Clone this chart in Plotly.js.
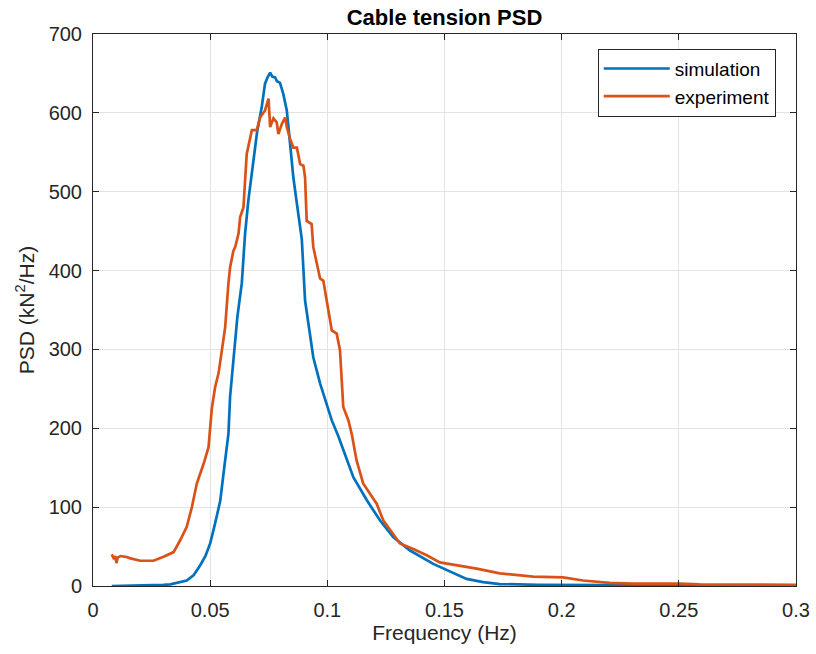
<!DOCTYPE html>
<html>
<head>
<meta charset="utf-8">
<script src="https://cdn.plot.ly/plotly-3.0.1.min.js"></script>
<style>body{margin:0;padding:0;background:#fff}#chart{width:816px;height:654px}</style>
</head>
<body>
<div id="chart"></div>
<script>
const simFreq = [0.008,0.015,0.02,0.025,0.03,0.033,0.036,0.040,0.043,0.0457,0.048,0.05,0.052,0.0543,0.056,0.0578,0.0585,0.060,0.0616,0.0635,0.0649,0.0663,0.0685,0.070,0.072,0.0734,0.0745,0.0756,0.0765,0.0777,0.0785,0.0798,0.0812,0.0827,0.0841,0.0855,0.087,0.0884,0.0891,0.0905,0.0926,0.094,0.0969,0.0997,0.1019,0.1047,0.1068,0.1111,0.1168,0.1225,0.1281,0.1353,0.1452,0.1523,0.1594,0.1665,0.1736,0.19,0.22,0.25,0.3];
const simPSD = [0,0.2,0.5,0.8,1.5,2,4,7,14,26,38,54,78,108,150,193,240,290,341,384,447,489,540,575,607,637,645,651,646,645,640,638,624,603,561,518,485,455,440,362,320,290,257,231,210,190,172,138,109,83,62,45,28,18,9,5,2.5,1.5,1,0.8,0.5];

const expFreq = [0.008,0.009,0.0095,0.010,0.0105,0.0117,0.014,0.016,0.0202,0.0258,0.0301,0.0344,0.0372,0.040,0.0422,0.0443,0.0472,0.0493,0.0507,0.0521,0.0536,0.055,0.0564,0.0578,0.0585,0.0599,0.0607,0.0621,0.0628,0.0642,0.0656,0.0678,0.0699,0.0713,0.0734,0.0749,0.0756,0.077,0.0784,0.0791,0.0806,0.082,0.0827,0.0841,0.0855,0.087,0.0884,0.0898,0.0905,0.0912,0.0933,0.094,0.0955,0.0969,0.0983,0.0997,0.1019,0.104,0.1054,0.1068,0.109,0.1104,0.1118,0.1125,0.1153,0.1211,0.1239,0.1267,0.131,0.1367,0.1424,0.148,0.1566,0.1637,0.1736,0.1878,0.2006,0.2091,0.2205,0.2304,0.2503,0.2588,0.3];
const expPSD = [40,34,38,29,36,38,37,35,32,32,37,43,58,75,100,130,155,176,225,252,270,299,328,384,404,425,430,447,468,480,548,578,578,594,603,618,582,593,588,573,586,594,582,567,556,556,535,533,518,463,459,430,409,390,387,362,324,320,299,227,210,193,172,159,130,104,83,71,54,47,39,30,26,22,16,12,11,7,4,3,3,2,1.5];

const seriesNames = ["simulation","experiment"];
const seriesColors = ["#0072BD","#D95319"];

const font = "Liberation Sans, Arial, Helvetica, sans-serif";
const txt = "#262626";

const traces = [
  {x: simFreq, y: simPSD, name: seriesNames[0], type: "scatter", mode: "lines", line: {color: seriesColors[0], width: 2.7}},
  {x: expFreq, y: expPSD, name: seriesNames[1], type: "scatter", mode: "lines", line: {color: seriesColors[1], width: 2.7}}
];

const axisCommon = {
  showline: true, linecolor: txt, linewidth: 1, mirror: "ticks",
  ticks: "inside", ticklen: 6, tickcolor: txt,
  showgrid: true, gridcolor: "#e3e3e3", gridwidth: 1,
  zeroline: false, tickfont: {family: font, size: 20, color: txt}
};

const layout = {
  width: 816, height: 654,
  margin: {l: 93, r: 20, t: 34, b: 68},
  paper_bgcolor: "#fff", plot_bgcolor: "#fff",
  font: {family: font, color: txt},
  title: {text: "<b>Cable tension PSD</b>", font: {family: font, size: 22, color: "#000"}, x: 0.5, xref: "paper", xanchor: "center", y: 0.974, yanchor: "middle"},
  xaxis: Object.assign({}, axisCommon, {
    range: [0, 0.3], tickvals: [0,0.05,0.1,0.15,0.2,0.25,0.3], ticktext: ["0","0.05","0.1","0.15","0.2","0.25","0.3"],
    ticklabelstandoff: 6,
    title: {text: "Frequency (Hz)", font: {family: font, size: 21, color: txt}, standoff: 4}
  }),
  yaxis: Object.assign({}, axisCommon, {
    range: [0, 700], dtick: 100,
    ticklabelstandoff: 6,
    title: {text: "PSD (kN<sup>2</sup>/Hz)", font: {family: font, size: 21, color: txt}, standoff: 8}
  }),
  legend: {
    x: 0.718, y: 0.9735, xanchor: "left", yanchor: "top",
    bgcolor: "#fff", bordercolor: txt, borderwidth: 1,
    font: {family: font, size: 19, color: "#000"},
    itemwidth: 66,
    tracegroupgap: 0
  },
  showlegend: true
};

Plotly.newPlot("chart", traces, layout, {displayModeBar: false, staticPlot: true});
</script>
</body>
</html>
